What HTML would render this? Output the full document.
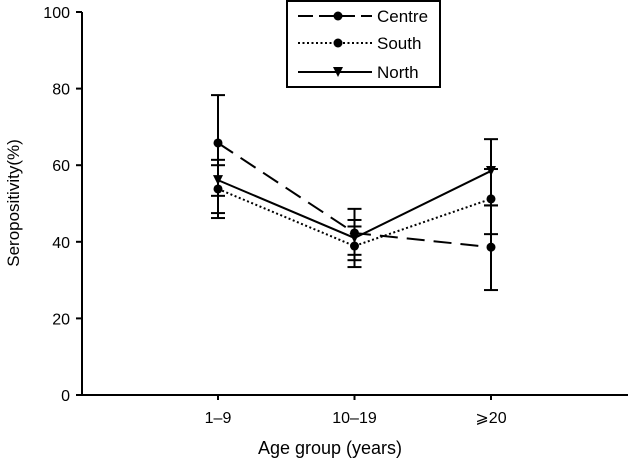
<!DOCTYPE html>
<html><head><meta charset="utf-8"><style>
body{margin:0;background:#fff}
text{font-family:"Liberation Sans",sans-serif;fill:#000}
</style></head><body>
<svg id="c" width="628" height="461"></svg>
<script>
const categories=["1–9","10–19","⩾20"];
const centre=[65.8,42.3,38.6];
const centreLo=[52,35.2,27.4];
const centreHi=[78.3,48.6,49.5];
const south=[53.8,38.9,51.2];
const southLo=[47.5,33.4,42];
const southHi=[60,44,59];
const north=[56.1,41,58.5];
const northLo=[46.2,36.6,49.5];
const northHi=[61.4,45.7,66.8];
const yTicks=[0,20,40,60,80,100];
const NS="http://www.w3.org/2000/svg";
const svg=document.getElementById('c');
const X=i=>218+i*136.5;
const Y=v=>395-v*3.83;
function el(t,a,p){const e=document.createElementNS(NS,t);for(const k in a)e.setAttribute(k,a[k]);(p||svg).appendChild(e);return e;}
const ax=el('g',{});


el('line',{x1:82,y1:Y(100),x2:82,y2:395,stroke:'#000','stroke-width':2},ax);
el('line',{x1:81,y1:395,x2:628,y2:395,stroke:'#000','stroke-width':2},ax);
yTicks.forEach(v=>{
 el('line',{x1:76,y1:Y(v),x2:82,y2:Y(v),stroke:'#000','stroke-width':2},ax);
 const t=el('text',{x:70,y:Y(v)+6,'text-anchor':'end','font-size':16},ax);t.textContent=v;
 
 
});
categories.forEach((c,i)=>{
 el('line',{x1:X(i),y1:395,x2:X(i),y2:400,stroke:'#000','stroke-width':2},ax);
 const t=el('text',{x:X(i),y:423,'text-anchor':'middle','font-size':16},ax);t.textContent=c;
 
 
});
const yt=el('text',{x:0,y:0,'text-anchor':'middle','font-size':17,transform:'translate(19,203) rotate(-90)'});yt.textContent='Seropositivity(%)';


const xt=el('text',{x:330,y:454,'text-anchor':'middle','font-size':18});xt.textContent='Age group (years)';


const series=[
 {name:'centre',v:centre,lo:centreLo,hi:centreHi,dash:'18,9',m:'dot'},
 {name:'south',v:south,lo:southLo,hi:southHi,dash:'2,2.5',m:'dot'},
 {name:'north',v:north,lo:northLo,hi:northHi,dash:'',m:'tri'}];
function marker(m,x,y,g){
 if(m==='dot')el('circle',{cx:x,cy:y,r:4.5,fill:'#000'},g);
 else el('polygon',{points:`${x-5},${y-5} ${x+5},${y-5} ${x},${y+5}`,fill:'#000'},g);
}
series.forEach(s=>{
 const g=el('g',{});
 
 
 s.v.forEach((v,i)=>{
  el('line',{x1:X(i),y1:Y(s.lo[i]),x2:X(i),y2:Y(s.hi[i]),stroke:'#000','stroke-width':2},g);
  [s.lo[i],s.hi[i]].forEach(e=>el('line',{x1:X(i)-7,y1:Y(e),x2:X(i)+7,y2:Y(e),stroke:'#000','stroke-width':2},g));
 });
 el('polyline',{points:s.v.map((v,i)=>X(i)+','+Y(v)).join(' '),fill:'none',stroke:'#000','stroke-width':2,'stroke-dasharray':s.dash},g);
 s.v.forEach((v,i)=>marker(s.m,X(i),Y(v),g));
});
const lg=el('g',{});


el('rect',{x:287,y:1,width:153,height:86,fill:'#fff',stroke:'#000','stroke-width':2},lg);
const ly=[16,43,72],ln=['Centre','South','North'];
series.forEach((s,i)=>{
 const e=el('g',{},lg);
 
 
 el('line',{x1:298,y1:ly[i],x2:372,y2:ly[i],stroke:'#000','stroke-width':2,'stroke-dasharray':s.dash==='18,9'?'15,6':s.dash},e);
 marker(s.m,338,ly[i],e);
 const t=el('text',{x:377,y:ly[i]+6,'font-size':17},e);t.textContent=ln[i];
});
</script></body></html>
